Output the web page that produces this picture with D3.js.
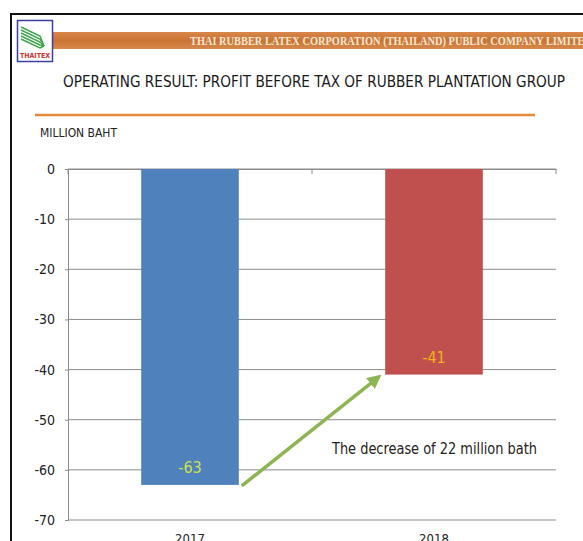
<!DOCTYPE html>
<html><head><meta charset="utf-8">
<script src="https://cdn.jsdelivr.net/npm/d3@7"></script>
<style>body{margin:0;background:#fff;}svg{display:block;}</style>
</head><body>
<script>
const categories = ["2017", "2018"];
const values = [-63, -41];
const barColors = ["#4F81BD", "#C0504D"];
const labelColors = ["#CFE04A", "#F2B21E"];
const yTicks = [0, -10, -20, -30, -40, -50, -60, -70];
const companyName = "THAI RUBBER LATEX CORPORATION (THAILAND) PUBLIC COMPANY LIMITED";
const title = "OPERATING RESULT: PROFIT BEFORE TAX OF RUBBER PLANTATION GROUP";
const unitLabel = "MILLION BAHT";
const annotation = "The decrease of 22 million bath";

const W = 583, H = 541;
const svg = d3.select("body").append("svg").attr("width", W).attr("height", H);
const font = "'DejaVu Sans Condensed', 'DejaVu Sans', sans-serif";
const fmt = d => String(d).replace("\u2212", "-");

// frame
svg.append("path").attr("d", `M11,${H} V14 H${W}`).attr("fill", "none").attr("stroke", "#111").attr("stroke-width", 2);

// orange banner
const defs = svg.append("defs");
const grad = defs.append("linearGradient").attr("id", "bg").attr("x1", 0).attr("x2", 0).attr("y1", 0).attr("y2", 1);
grad.append("stop").attr("offset", "0").attr("stop-color", "#D8874A");
grad.append("stop").attr("offset", "0.5").attr("stop-color", "#C97433");
grad.append("stop").attr("offset", "1").attr("stop-color", "#D8884C");
svg.append("rect").attr("x", 53).attr("y", 32).attr("width", W - 53).attr("height", 17).attr("fill", "url(#bg)");
svg.append("text").attr("x", 190).attr("y", 45).attr("font-family", "'Liberation Serif', 'DejaVu Serif', serif")
  .attr("font-size", 11.5).attr("font-weight", "bold").attr("fill", "#F6E6D2")
  .attr("textLength", 402).attr("lengthAdjust", "spacingAndGlyphs").text(companyName);

// logo
const logo = svg.append("g");
logo.append("rect").attr("x", 17.5).attr("y", 20.5).attr("width", 35).attr("height", 41).attr("fill", "#fff").attr("stroke", "#3B3FA0").attr("stroke-width", 1.5);
for (let i = 0; i < 5; i++) {
  logo.append("path").attr("d", `M21,${27 + i * 3} L40,${36 + i * 3} L44,${46}`).attr("fill", "none").attr("stroke", "#3FA34D").attr("stroke-width", 1.4);
}
logo.append("text").attr("x", 35).attr("y", 58).attr("text-anchor", "middle").attr("font-family", "'DejaVu Sans Condensed', sans-serif")
  .attr("font-size", 7).attr("font-weight", "bold").attr("fill", "#D03030").text("THAITEX");

// title
svg.append("text").attr("x", 63).attr("y", 87).attr("font-family", font).attr("font-size", 16.5).attr("fill", "#1a1a1a")
  .attr("textLength", 502).attr("lengthAdjust", "spacingAndGlyphs").text(title);
svg.append("line").attr("x1", 35).attr("x2", 535).attr("y1", 115).attr("y2", 115).attr("stroke", "#E2893A").attr("stroke-width", 2.5);
svg.append("text").attr("x", 40).attr("y", 137).attr("font-family", font).attr("font-size", 11.5).attr("fill", "#222")
  .attr("textLength", 77).attr("lengthAdjust", "spacingAndGlyphs").text(unitLabel);

// scales
const pLeft = 68, pRight = 556, pTop = 169, pBottom = 520;
const x = d3.scaleBand().domain(categories).range([pLeft, pRight]).paddingInner(0.6).paddingOuter(0.3);
const xBand = d3.scaleBand().domain(categories).range([pLeft, pRight]);
const y = d3.scaleLinear().domain([0, -70]).range([pTop, pBottom]);

// grid
svg.append("g").selectAll("line").data(yTicks).join("line")
  .attr("x1", pLeft).attr("x2", pRight).attr("y1", d => y(d)).attr("y2", d => y(d))
  .attr("stroke", "#8c8c8c").attr("stroke-width", 1);

// y axis
const yAxis = svg.append("g").attr("transform", `translate(${pLeft},0)`)
  .call(d3.axisLeft(y).tickValues(yTicks).tickSize(3).tickPadding(10).tickFormat(d => fmt(d)));
yAxis.select(".domain").attr("stroke", "#8c8c8c");
yAxis.selectAll(".tick line").attr("stroke", "#8c8c8c");
yAxis.selectAll("text").attr("font-family", font).attr("font-size", 14).attr("fill", "#222");

// category axis at zero
const xAxis = svg.append("g").attr("transform", `translate(0,${y(0)})`)
  .call(d3.axisBottom(xBand).tickSize(0).tickFormat(""));
xAxis.select(".domain").attr("stroke", "#8c8c8c");
svg.append("g").selectAll("line").data([pLeft, ...categories.map(c => xBand(c) + xBand.bandwidth())]).join("line")
  .attr("x1", d => d).attr("x2", d => d).attr("y1", y(0)).attr("y2", y(0) + 5).attr("stroke", "#8c8c8c");

// bars
svg.append("g").selectAll("rect").data(values).join("rect")
  .attr("x", (d, i) => x(categories[i])).attr("width", x.bandwidth())
  .attr("y", y(0)).attr("height", d => y(d) - y(0))
  .attr("fill", (d, i) => barColors[i]);

// value labels
svg.append("g").selectAll("text").data(values).join("text")
  .attr("x", (d, i) => x(categories[i]) + x.bandwidth() / 2)
  .attr("y", d => y(d) - 12)
  .attr("text-anchor", "middle").attr("font-family", font).attr("font-size", 16)
  .attr("fill", (d, i) => labelColors[i]).text(d => fmt(d));

// category labels
svg.append("g").selectAll("text").data(categories).join("text")
  .attr("x", d => xBand(d) + xBand.bandwidth() / 2).attr("y", 543)
  .attr("text-anchor", "middle").attr("font-family", font).attr("font-size", 13).attr("fill", "#222").text(d => d);

// arrow
defs.append("marker").attr("id", "ah").attr("viewBox", "0 0 10 10").attr("refX", 8).attr("refY", 5)
  .attr("markerWidth", 4).attr("markerHeight", 4).attr("orient", "auto")
  .append("path").attr("d", "M0,0 L10,5 L0,10 z").attr("fill", "#8DB554");
const ax0 = x(categories[0]) + x.bandwidth() + 3, ay0 = y(values[0]) + 1;
const ax1 = x(categories[1]) - 6, ay1 = y(values[1]) + 2;
svg.append("line").attr("x1", ax0).attr("y1", ay0).attr("x2", ax1).attr("y2", ay1)
  .attr("stroke", "#8DB554").attr("stroke-width", 3.5).attr("marker-end", "url(#ah)");

// annotation
svg.append("text").attr("x", 332).attr("y", 454).attr("font-family", font).attr("font-size", 15).attr("fill", "#222")
  .attr("textLength", 205).attr("lengthAdjust", "spacingAndGlyphs").text(annotation);
</script>
</body></html>
